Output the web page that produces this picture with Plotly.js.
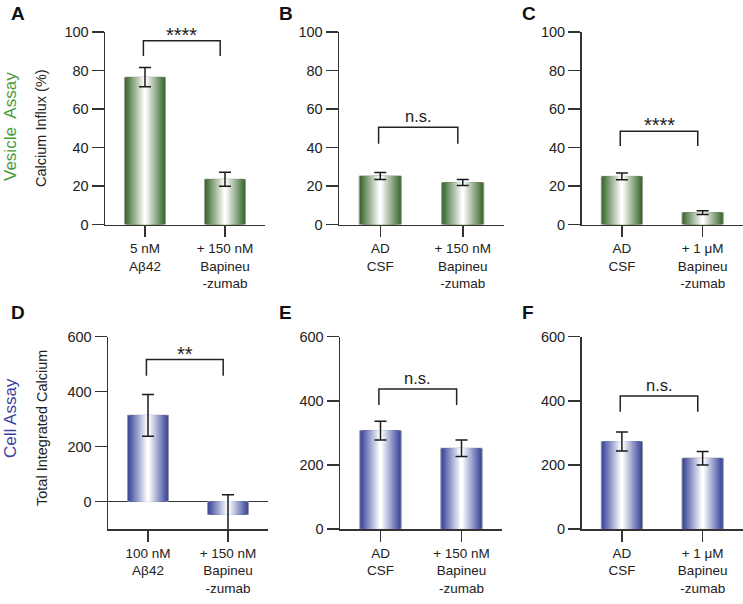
<!DOCTYPE html>
<html><head><meta charset="utf-8">
<script src="https://cdn.plot.ly/plotly-3.0.1.min.js"></script>
<style>html,body{margin:0;padding:0;background:#fff}</style>
</head><body><div id="chart" style="width:743px;height:604px"></div>
<script>
// ---- data ----
const labelsA = ['5 nM<br>Aβ42', '+ 150 nM<br>Bapineu<br>-zumab'];
const labelsB = ['AD<br>CSF', '+ 150 nM<br>Bapineu<br>-zumab'];
const labelsC = ['AD<br>CSF', '+ 1 μM<br>Bapineu<br>-zumab'];
const labelsD = ['100 nM<br>Aβ42', '+ 150 nM<br>Bapineu<br>-zumab'];
const labelsE = ['AD<br>CSF', '+ 150 nM<br>Bapineu<br>-zumab'];
const labelsF = ['AD<br>CSF', '+ 1 μM<br>Bapineu<br>-zumab'];
const valuesA = [76.5, 23.5];  const errA = [5.0, 3.6];
const valuesB = [25.2, 21.8];  const errB = [1.8, 1.6];
const valuesC = [25.0, 6.2];   const errC = [1.7, 1.0];
const valuesD = [314, -47];    const errD = [76, 72];
const valuesE = [307, 252];    const errE = [29, 26];
const valuesF = [273, 221];    const errF = [30, 21];
const sigLabels = ['****', 'n.s.', '****', '**', 'n.s.', 'n.s.'];
const yTicksTop = [0, 20, 40, 60, 80, 100];
const yTicksBottom = [0, 200, 400, 600];

// ---- layout helpers ----
const W = 743, H = 604;
const px = p => p / W, py = p => 1 - p / H;
const GREEN = '#3a672a', BLUE = '#38449a';

const panels = [
  {labels: labelsA, values: valuesA, err: errA, sig: sigLabels[0], letter: 'A', color: GREEN,
   xd: [105, 265], yd: [32, 224.5], range: [0, 100], ticks: yTicksTop, br: [95.5, 87.5], lx: 18, ly: 13},
  {labels: labelsB, values: valuesB, err: errB, sig: sigLabels[1], letter: 'B', color: GREEN,
   xd: [339, 504], yd: [32, 224.5], range: [0, 100], ticks: yTicksTop, br: [50.5, 42], lx: 286, ly: 13},
  {labels: labelsC, values: valuesC, err: errC, sig: sigLabels[2], letter: 'C', color: GREEN,
   xd: [581.5, 743], yd: [32, 224.5], range: [0, 100], ticks: yTicksTop, br: [48.5, 40.8], lx: 529, ly: 13},
  {labels: labelsD, values: valuesD, err: errD, sig: sigLabels[3], letter: 'D', color: BLUE,
   xd: [108, 268], yd: [336.7, 529], range: [-100, 600], ticks: yTicksBottom, br: [517, 458], lx: 18, ly: 312},
  {labels: labelsE, values: valuesE, err: errE, sig: sigLabels[4], letter: 'E', color: BLUE,
   xd: [340, 502], yd: [336.7, 529], range: [0, 600], ticks: yTicksBottom, br: [437, 387], lx: 285, ly: 312},
  {labels: labelsF, values: valuesF, err: errF, sig: sigLabels[5], letter: 'F', color: BLUE,
   xd: [581.5, 743], yd: [336.7, 529], range: [0, 600], ticks: yTicksBottom, br: [415, 366], lx: 528, ly: 312}
];

function hex2rgb(h){ return [1,3,5].map(i => parseInt(h.slice(i, i+2), 16)); }
function mix(c, t){ const a = hex2rgb(c); return 'rgb(' + a.map(v => Math.round(v + (255 - v) * t)).join(',') + ')'; }

const N = 16, BAR_W = 0.51;
const traces = [], shapes = [], annotations = [];
const layout = {
  width: W, height: H, margin: {l: 0, r: 0, t: 0, b: 0},
  paper_bgcolor: '#fff', plot_bgcolor: 'rgba(0,0,0,0)',
  font: {family: 'Liberation Sans, Arial, sans-serif', color: '#222'},
  barmode: 'overlay', showlegend: false, hovermode: false
};

panels.forEach((p, i) => {
  const n = i === 0 ? '' : String(i + 1);
  const xa = 'x' + n, ya = 'y' + n;
  const xs = p.labels.map((_, j) => j);
  for (let k = 0; k < N; k++) {
    const t = k / (N - 1);
    traces.push({
      type: 'bar', x: xs, y: p.values, xaxis: xa, yaxis: ya,
      width: BAR_W * (1 - k / N),
      marker: {color: mix(p.color, Math.min(1, t)),
               line: {width: k === 0 ? 1 : 0, color: '#999'}},
      hoverinfo: 'skip'
    });
  }
  traces.push({
    type: 'scatter', mode: 'markers', x: xs, y: p.values, xaxis: xa, yaxis: ya,
    marker: {color: 'rgba(0,0,0,0)', size: 1}, cliponaxis: false,
    error_y: {type: 'data', array: p.err, visible: true, color: '#1a1a1a', thickness: 1.5, width: 6},
    hoverinfo: 'skip'
  });
  layout['xaxis' + n] = {
    domain: [px(p.xd[0]), px(p.xd[1])], anchor: ya, range: [-0.5, 1.5],
    tickvals: xs, ticktext: p.labels, showgrid: false, zeroline: false,
    showline: true, linecolor: '#333', linewidth: 1.5,
    ticks: 'outside', ticklen: 11, tickwidth: 1.5, tickcolor: '#333',
    tickfont: {size: 13.5, color: '#222'}, fixedrange: true
  };
  layout['yaxis' + n] = {
    domain: [py(p.yd[1]), py(p.yd[0])], anchor: xa, range: p.range,
    tickvals: p.ticks, showgrid: false,
    zeroline: p.range[0] < 0, zerolinecolor: '#333', zerolinewidth: 1.5,
    showline: true, linecolor: '#333', linewidth: 1.5,
    ticks: 'outside', ticklen: 12, tickwidth: 1.5, tickcolor: '#333',
    tickfont: {size: 14.5, color: '#222'}, fixedrange: true
  };
  const x0 = -0.02, x1 = 0.94;
  shapes.push({type: 'path', xref: xa, yref: ya,
    path: `M ${x0},${p.br[1]} L ${x0},${p.br[0]} L ${x1},${p.br[0]} L ${x1},${p.br[1]}`,
    line: {color: '#222', width: 1.5}});
  const star = p.sig.indexOf('*') >= 0;
  annotations.push({xref: xa, yref: ya, x: (x0 + x1) / 2, y: p.br[0], text: p.sig,
    showarrow: false, yanchor: 'bottom', yshift: star ? -7 : 0,
    font: {size: star ? 20 : 16.5, color: '#222'}});
  annotations.push({xref: 'paper', yref: 'paper', x: px(p.lx), y: py(p.ly), text: '<b>' + p.letter + '</b>',
    showarrow: false, xanchor: 'center', yanchor: 'middle', font: {size: 19, color: '#111'}});
});

// axis titles
annotations.push({xref: 'paper', yref: 'paper', x: px(10), y: py(127), text: 'Vesicle  Assay', textangle: -90,
  showarrow: false, xanchor: 'center', yanchor: 'middle', font: {size: 17, color: '#4a9a3a'}});
annotations.push({xref: 'paper', yref: 'paper', x: px(41), y: py(128), text: 'Calcium Influx (%)', textangle: -90,
  showarrow: false, xanchor: 'center', yanchor: 'middle', font: {size: 14.5, color: '#222'}});
annotations.push({xref: 'paper', yref: 'paper', x: px(10), y: py(418), text: 'Cell Assay', textangle: -90,
  showarrow: false, xanchor: 'center', yanchor: 'middle', font: {size: 17, color: '#3b44a0'}});
annotations.push({xref: 'paper', yref: 'paper', x: px(42), y: py(428), text: 'Total Integrated Calcium', textangle: -90,
  showarrow: false, xanchor: 'center', yanchor: 'middle', font: {size: 14.5, color: '#222'}});

layout.shapes = shapes;
layout.annotations = annotations;
Plotly.newPlot('chart', traces, layout, {staticPlot: true, displayModeBar: false});
</script></body></html>
